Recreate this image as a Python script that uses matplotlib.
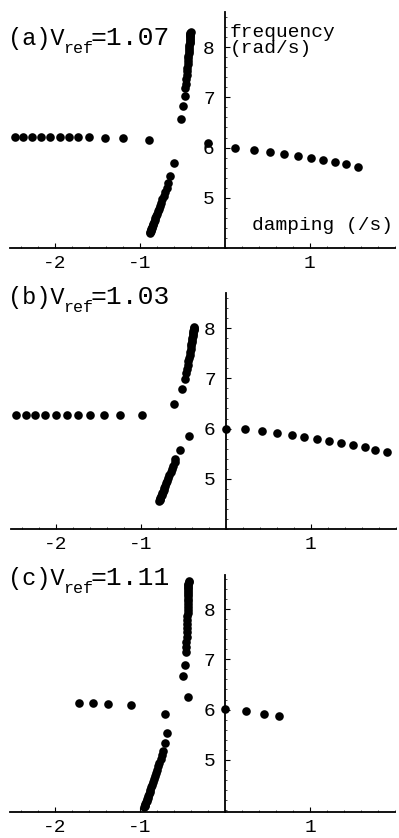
import matplotlib
matplotlib.use("Agg")
import matplotlib.pyplot as plt
from matplotlib.ticker import MultipleLocator

# ---------------- data ----------------
# Panel (a) Vref = 1.07
a_left_x = [-2.47, -2.37, -2.26, -2.16, -2.05, -1.94, -1.83, -1.73, -1.60, -1.41, -1.20, -0.89]
a_left_y = [6.21, 6.21, 6.21, 6.21, 6.21, 6.21, 6.21, 6.21, 6.21, 6.20, 6.20, 6.16]
a_up_x = [-0.51, -0.49, -0.47, -0.460, -0.455, -0.450, -0.446, -0.442, -0.438, -0.434, -0.431,
          -0.428, -0.425, -0.422, -0.420, -0.418, -0.415, -0.413, -0.412, -0.410, -0.408,
          -0.407, -0.405, -0.404, -0.403, -0.402, -0.401, -0.400]
a_up_y = [6.57, 6.83, 7.02, 7.18, 7.27, 7.36, 7.44, 7.52, 7.59, 7.66, 7.72, 7.78, 7.83, 7.88,
          7.93, 7.97, 8.01, 8.05, 8.08, 8.11, 8.14, 8.17, 8.20, 8.22, 8.24, 8.26, 8.28, 8.30]
a_low_x = [-0.60, -0.64, -0.67, -0.680, -0.698, -0.715, -0.731, -0.746, -0.759, -0.772, -0.783,
           -0.794, -0.805, -0.814, -0.823, -0.832, -0.838, -0.845, -0.852, -0.858, -0.863,
           -0.867, -0.871, -0.876, -0.880]
a_low_y = [5.69, 5.44, 5.29, 5.20, 5.12, 5.04, 4.97, 4.90, 4.84, 4.78, 4.73, 4.68, 4.63, 4.59,
           4.55, 4.51, 4.48, 4.45, 4.42, 4.39, 4.37, 4.35, 4.33, 4.31, 4.29]
a_right_x = [-0.20, 0.12, 0.35, 0.54, 0.70, 0.86, 1.02, 1.16, 1.30, 1.43, 1.57]
a_right_y = [6.09, 6.00, 5.95, 5.91, 5.87, 5.84, 5.79, 5.75, 5.71, 5.67, 5.62]

# Panel (b) Vref = 1.03
b_left_x = [-2.47, -2.35, -2.24, -2.12, -2.00, -1.87, -1.74, -1.59, -1.43, -1.24, -0.98]
b_left_y = [6.27, 6.27, 6.27, 6.27, 6.27, 6.27, 6.27, 6.27, 6.27, 6.27, 6.27]
b_up_x = [-0.61, -0.51, -0.48, -0.460, -0.452, -0.444, -0.437, -0.430, -0.424, -0.418, -0.412,
          -0.408, -0.403, -0.399, -0.395, -0.391, -0.387, -0.384, -0.381, -0.378, -0.375,
          -0.373, -0.371, -0.370]
b_up_y = [6.48, 6.78, 6.98, 7.11, 7.19, 7.27, 7.34, 7.41, 7.47, 7.53, 7.59, 7.64, 7.69, 7.73,
          7.77, 7.81, 7.85, 7.88, 7.91, 7.94, 7.97, 7.99, 8.01, 8.02]
b_low_x = [-0.43, -0.54, -0.59, -0.600, -0.616, -0.633, -0.647, -0.661, -0.675, -0.687, -0.698,
           -0.710, -0.719, -0.729, -0.738, -0.745, -0.752, -0.759, -0.766, -0.771, -0.776, -0.780]
b_low_y = [5.85, 5.58, 5.40, 5.33, 5.26, 5.19, 5.13, 5.07, 5.01, 4.96, 4.91, 4.86, 4.82, 4.78,
           4.74, 4.71, 4.68, 4.65, 4.62, 4.60, 4.58, 4.56]
b_right_x = [0.00, 0.23, 0.43, 0.61, 0.78, 0.92, 1.08, 1.22, 1.36, 1.50, 1.64, 1.76, 1.90]
b_right_y = [6.00, 5.99, 5.96, 5.92, 5.88, 5.84, 5.80, 5.76, 5.72, 5.68, 5.63, 5.58, 5.53]

# Panel (c) Vref = 1.11
c_left_x = [-1.72, -1.55, -1.38, -1.11, -0.71]
c_left_y = [6.14, 6.14, 6.12, 6.10, 5.92]
c_up_x = [-0.44, -0.49, -0.47, -0.460, -0.457, -0.455, -0.452, -0.450, -0.448, -0.446, -0.444,
          -0.442, -0.441, -0.440, -0.439, -0.438, -0.437, -0.436, -0.435, -0.434, -0.433,
          -0.433, -0.432, -0.432, -0.431, -0.431, -0.430, -0.430]
c_up_y = [6.25, 6.67, 6.89, 7.15, 7.25, 7.35, 7.45, 7.54, 7.63, 7.71, 7.79, 7.86, 7.93, 7.99,
          8.05, 8.11, 8.16, 8.21, 8.26, 8.30, 8.34, 8.38, 8.42, 8.45, 8.48, 8.51, 8.54, 8.57]
c_low_x = [-0.68, -0.71, -0.73, -0.740, -0.756, -0.772, -0.786, -0.800, -0.814, -0.826, -0.838,
           -0.850, -0.860, -0.870, -0.880, -0.888, -0.896, -0.904, -0.912, -0.918, -0.924,
           -0.930, -0.936, -0.940, -0.944, -0.948]
c_low_y = [5.53, 5.33, 5.18, 5.10, 5.02, 4.94, 4.87, 4.80, 4.73, 4.67, 4.61, 4.55, 4.50, 4.45,
           4.40, 4.36, 4.32, 4.28, 4.24, 4.21, 4.18, 4.15, 4.12, 4.10, 4.08, 4.06]
c_right_x = [0.00, 0.25, 0.46, 0.64]
c_right_y = [6.02, 5.97, 5.92, 5.88]

x_ticks = [-2, -1, 1]
x_tick_labels = ["-2", "-1", "1"]
y_ticks = [5, 6, 7, 8]
y_tick_labels = ["5", "6", "7", "8"]

panels = [
    ("(a)", "=1.07", [(a_left_x, a_left_y), (a_up_x, a_up_y), (a_low_x, a_low_y), (a_right_x, a_right_y)]),
    ("(b)", "=1.03", [(b_left_x, b_left_y), (b_up_x, b_up_y), (b_low_x, b_low_y), (b_right_x, b_right_y)]),
    ("(c)", "=1.11", [(c_left_x, c_left_y), (c_up_x, c_up_y), (c_low_x, c_low_y), (c_right_x, c_right_y)]),
]

# ---------------- layout (pixel based) ----------------
W, H = 399, 838
fig = plt.figure(figsize=(W / 100, H / 100), dpi=100)
mono = "Liberation Mono"

# (top px, bottom px, ymin, ymax, left px, title baseline px)
frames = [
    (12, 248, 4.00, 8.70, 9.5, 45),
    (293, 529, 4.00, 8.70, 10.5, 304),
    (575, 812, 3.96, 8.68, 10.0, 585),
]
XMIN, XMAX = -2.53, 2.0

for (tag, val, series), (top, bot, ymin, ymax, left, base) in zip(panels, frames):
    width_px = (XMAX - XMIN) * 85.0
    ax = fig.add_axes([left / W, 1 - bot / H, width_px / W, (bot - top) / H])
    ax.set_xlim(XMIN, XMAX)
    ax.set_ylim(ymin, ymax)
    ax.patch.set_alpha(0)
    for s in ("top", "right"):
        ax.spines[s].set_visible(False)
    ax.spines["left"].set_position(("data", 0))
    ax.spines["bottom"].set_position(("data", ymin))
    for s in ("left", "bottom"):
        ax.spines[s].set_linewidth(1.3)
    ax.set_xticks(x_ticks)
    ax.set_xticklabels(x_tick_labels, fontfamily=mono, fontsize=14)
    ax.set_yticks(y_ticks)
    ax.set_yticklabels(y_tick_labels, fontfamily=mono, fontsize=14)
    ax.xaxis.set_minor_locator(MultipleLocator(0.2))
    ax.yaxis.set_minor_locator(MultipleLocator(0.2))
    ax.tick_params(which="major", direction="in", length=3.5, width=0.8, pad=5)
    ax.tick_params(which="minor", direction="in", length=1.5, width=0.5)
    ax.tick_params(axis="y", which="major", pad=7)
    for xs, ys in series:
        ax.plot(xs, ys, "o", color="black", markersize=6.2, markeredgewidth=0, clip_on=False)

    # panel title
    fig.text(8 / W, 1 - base / H, tag + "V", fontfamily=mono, fontsize=17, va="baseline", ha="left")
    fig.text(63 / W, 1 - (base + 8) / H, "ref", fontfamily=mono, fontsize=12, va="baseline", ha="left")
    fig.text(91 / W, 1 - base / H, val, fontfamily=mono, fontsize=19, va="baseline", ha="left")

# axis annotations in panel (a)
fig.text(230 / W, 1 - 37 / H, "frequency", fontfamily=mono, fontsize=14, va="baseline", ha="left")
fig.text(230 / W, 1 - 53 / H, "(rad/s)", fontfamily=mono, fontsize=14, va="baseline", ha="left")
fig.text(252 / W, 1 - 230 / H, "damping (/s)", fontfamily=mono, fontsize=14, va="baseline", ha="left")

fig.savefig("out.png", dpi=100)
